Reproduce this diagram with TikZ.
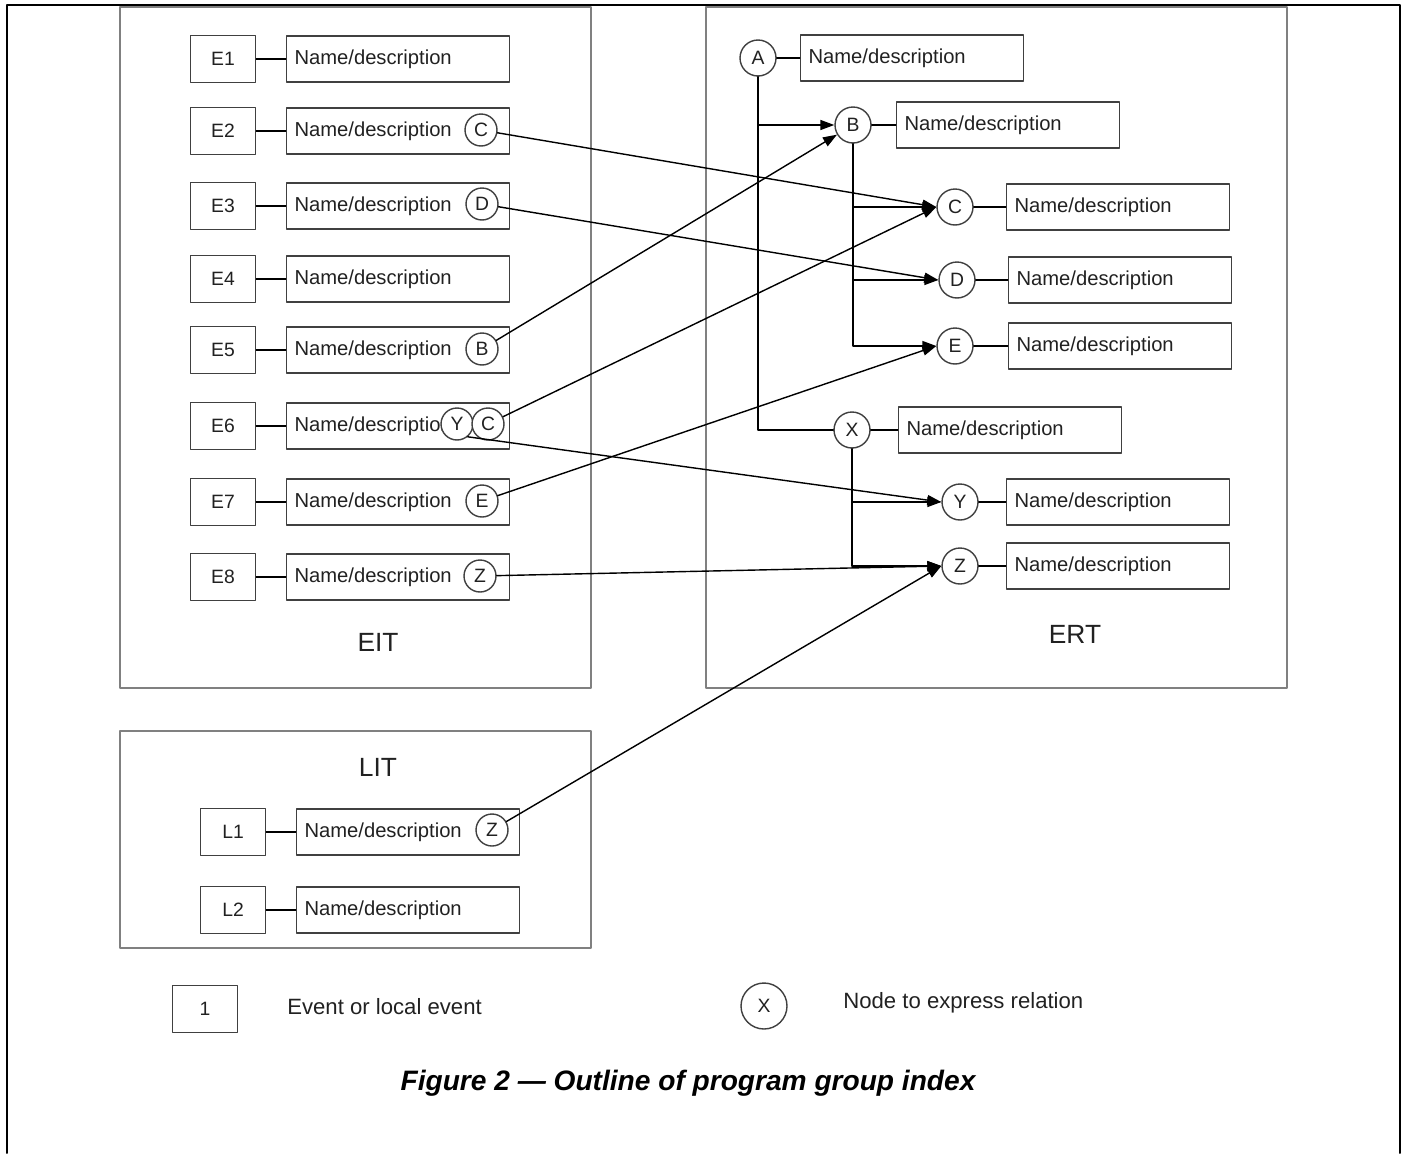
\documentclass[tikz,border=0pt]{standalone}
\usepackage{fontspec}
\setmainfont{Liberation Sans}
\usetikzlibrary{arrows.meta}
\usetikzlibrary{positioning}
\definecolor{panelgray}{rgb}{0.5,0.5,0.5}
\definecolor{boxgray}{rgb}{0.25,0.25,0.25}
\definecolor{inkgray}{rgb}{0.13,0.13,0.13}

\begin{document}
\begin{tikzpicture}[line cap=round,line join=round,x=0.02cm,y=-0.02cm,
  >={Triangle[length=0.28cm,width=0.2cm]},
  evbox/.style={draw=boxgray,line width=1pt,minimum width=1.3cm,minimum height=0.94cm,
    inner sep=0pt,text=inkgray,font=\fontsize{11}{13}\selectfont},
  namebox/.style={draw=boxgray,line width=1pt,minimum height=0.92cm,text width=4.14cm,
    inner xsep=0.16cm,inner ysep=0pt,align=left,text=inkgray,font=\fontsize{11.5}{13}\selectfont},
  relnode/.style={circle,draw=boxgray,fill=white,line width=0.8pt,minimum size=0.64cm,
    inner sep=0pt,text=inkgray,font=\fontsize{11}{13}\selectfont},
  ertnode/.style={relnode,minimum size=0.72cm},
  panel/.style={draw=panelgray,line width=1.3pt},
  paneltitle/.style={inner sep=0pt,text=inkgray,font=\fontsize{15}{18}\selectfont},
  keytext/.style={anchor=west,inner sep=0pt,text=inkgray,font=\fontsize{12.6}{15}\selectfont},
  link/.style={line width=0.8pt}]
\useasboundingbox (0,0) rectangle (1409,1153);
\draw[line width=1.1pt] (7,1153) -- (7,5) -- (1400,5) -- (1400,1153);
% panels
\draw[panel] (120,7) rectangle (591,688);
\draw[panel] (706,7) rectangle (1287,688);
\draw[panel] (120,731) rectangle (591,948);
\node[paneltitle] (eit) at (378,642) {EIT};
\node[paneltitle] (ert) at (1075,634) {ERT};
\node[paneltitle] (lit) at (378,767) {LIT};
% EIT events
\foreach \i/\y in {1/59,2/131,3/206,4/279,5/350,6/426,7/502,8/577}{
  \node[evbox] (e\i) at (223,\y) {E\i};
  \node[namebox] (n\i) at (398,\y) {Name/description};
  \draw[link] (e\i) -- (n\i);
}
\node[relnode] (e2c) at (481,130) {C};
\node[relnode] (e3d) at (482,204) {D};
\node[relnode] (e5b) at (482,349) {B};
\node[relnode] (e6y) at (457,424) {Y};
\node[relnode] (e6c) at (488,424) {C};
\node[relnode] (e7e) at (482,501) {E};
\node[relnode] (e8z) at (480,576) {Z};
% LIT local events
\foreach \i/\y in {1/832,2/910}{
  \node[evbox] (l\i) at (233,\y) {L\i};
  \node[namebox] (m\i) at (408,\y) {Name/description};
  \draw[link] (l\i) -- (m\i);
}
\node[relnode] (l1z) at (492,830) {Z};
% ERT relation nodes
\foreach \n/\x/\y/\d in {A/758/58/912,B/853/125/1008,C/955/207/1118,D/957/280/1120,
    E/955/346/1120,X/852/430/1010,Y/960/502/1118,Z/960/566/1118}{
  \node[ertnode] (rel\n) at (\x,\y) {\n};
  \node[namebox] (desc\n) at (\d,\y) {Name/description};
  \draw[link] (rel\n) -- (desc\n);
}
% tree inside ERT
\draw[link] (relA.south) |- (relX.west);
\draw[link,->] (relA.south |- relB.west) -- (relB.west);
\draw[link,->] (relB.south) |- (relE.west);
\draw[link,->] (relB.south |- relC.west) -- (relC.west);
\draw[link,->] (relB.south |- relD.west) -- (relD.west);
\draw[link] (relX.south) -- (relX.south |- relZ.west);
\draw[link,->] (relX.south |- relY.west) -- (relY.west);
\draw[link,->] (relX.south |- relZ.west) -- (relZ.west);
% links from the tables
\draw[link,->] (e2c) -- (relC.west);
\draw[link,->] (e3d) -- (relD.west);
\draw[link,->] (e5b) -- (relB);
\draw[link,->] (e6c) -- (relC.west);
\draw[link,->] (e6y.-50) -- (relY.west);
\draw[link,->] (e7e) -- (relE.west);
\draw[link,->] (e8z) -- (relZ.west);
\draw[link,->] (l1z) -- (relZ.west);
% key
\node[evbox] (key1) at (205,1009) {1};
\node[keytext] (keyev) at (287,1007) {Event or local event};
\node[relnode,minimum size=0.92cm] (keyx) at (764,1006) {X};
\node[keytext] (keyrel) at (843,1003) {Node to express relation};
\node[text=black,font=\bfseries\itshape\fontsize{16}{19}\selectfont] (caption) at (688,1083)
  {Figure 2 — Outline of program group index};
\end{tikzpicture}
\end{document}
